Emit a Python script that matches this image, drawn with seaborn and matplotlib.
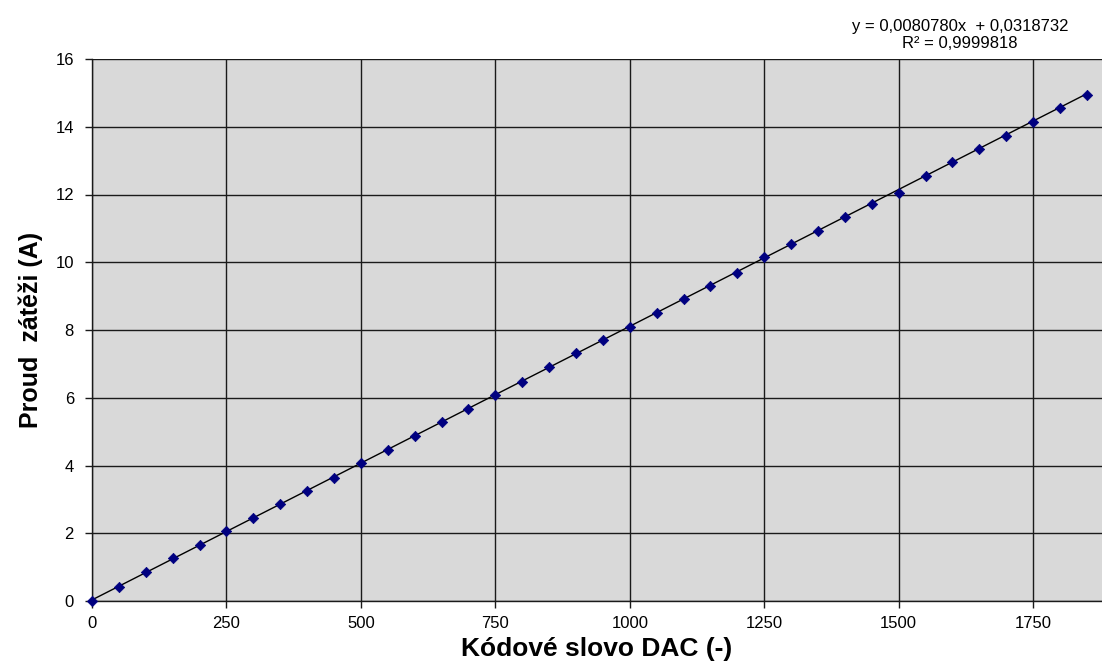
import numpy as np
import pandas as pd
import matplotlib
matplotlib.use("Agg")
import matplotlib.pyplot as plt
import seaborn as sns

# DAC code words and measured load current
dac_code = list(range(0, 1851, 50))
current_a = [0.00, 0.42, 0.86, 1.26, 1.66, 2.07, 2.46, 2.85, 3.26, 3.64,
             4.08, 4.47, 4.87, 5.28, 5.67, 6.08, 6.47, 6.92, 7.31, 7.70,
             8.10, 8.50, 8.91, 9.31, 9.69, 10.15, 10.53, 10.93, 11.33, 11.72,
             12.04, 12.55, 12.95, 13.35, 13.74, 14.15, 14.54, 14.94]

# linear trend line coefficients
slope = 0.0080780
intercept = 0.0318732
r_squared = 0.9999818

x_ticks = [0, 250, 500, 750, 1000, 1250, 1500, 1750]
y_ticks = [0, 2, 4, 6, 8, 10, 12, 14, 16]

sns.set_theme(style="white")
plt.rcParams["font.family"] = ["Liberation Sans", "DejaVu Sans"]
plt.rcParams["text.color"] = "black"
plt.rcParams["axes.labelcolor"] = "black"

df = pd.DataFrame({"dac": dac_code, "current": current_a})
trend = pd.DataFrame({"dac": [0, dac_code[-1]]})
trend["current"] = slope * trend["dac"] + intercept

fig = plt.figure(figsize=(11.02, 6.70), dpi=100)
ax = fig.add_axes([92 / 1102, 69 / 670, 1010 / 1102, 542 / 670])
ax.set_facecolor("#D9D9D9")

sns.lineplot(data=trend, x="dac", y="current", ax=ax, color="black",
             linewidth=1.0, zorder=3)
sns.scatterplot(data=df, x="dac", y="current", ax=ax, marker="D", s=28,
                color="#000080", edgecolor="#000080", linewidth=0.5, zorder=4,
                clip_on=False)

ax.set_xlim(0, 1878)
ax.set_ylim(0, 16)
ax.set_xticks(x_ticks)
ax.set_yticks(y_ticks)
ax.grid(True, color="#1a1a1a", linewidth=1.0)
ax.set_axisbelow(True)

for side in ["top", "right"]:
    ax.spines[side].set_visible(False)
for side in ["left", "bottom"]:
    ax.spines[side].set_color("#1a1a1a")
    ax.spines[side].set_linewidth(1.0)

ax.tick_params(axis="both", which="major", length=5, width=1, color="#1a1a1a",
               labelsize=12, labelcolor="black", direction="out",
               bottom=True, left=True)
ax.tick_params(axis="x", pad=6)
ax.tick_params(axis="y", pad=8)

ax.set_xlabel("Kódové slovo DAC (-)", fontsize=19, fontweight="bold", labelpad=4)
ax.set_ylabel("Proud  zátěži (A)", fontsize=18, fontweight="bold", labelpad=9)

eq_text = ("y = " + f"{slope:.7f}".replace(".", ",") + "x  + "
           + f"{intercept:.7f}".replace(".", ","))
r2_text = "R² = " + f"{r_squared:.7f}".replace(".", ",")
fig.text(960 / 1102, 1 - 27 / 670, eq_text, ha="center", va="center", fontsize=12)
fig.text(960 / 1102, 1 - 44 / 670, r2_text, ha="center", va="center", fontsize=12)

fig.savefig("out.png", dpi=100)
